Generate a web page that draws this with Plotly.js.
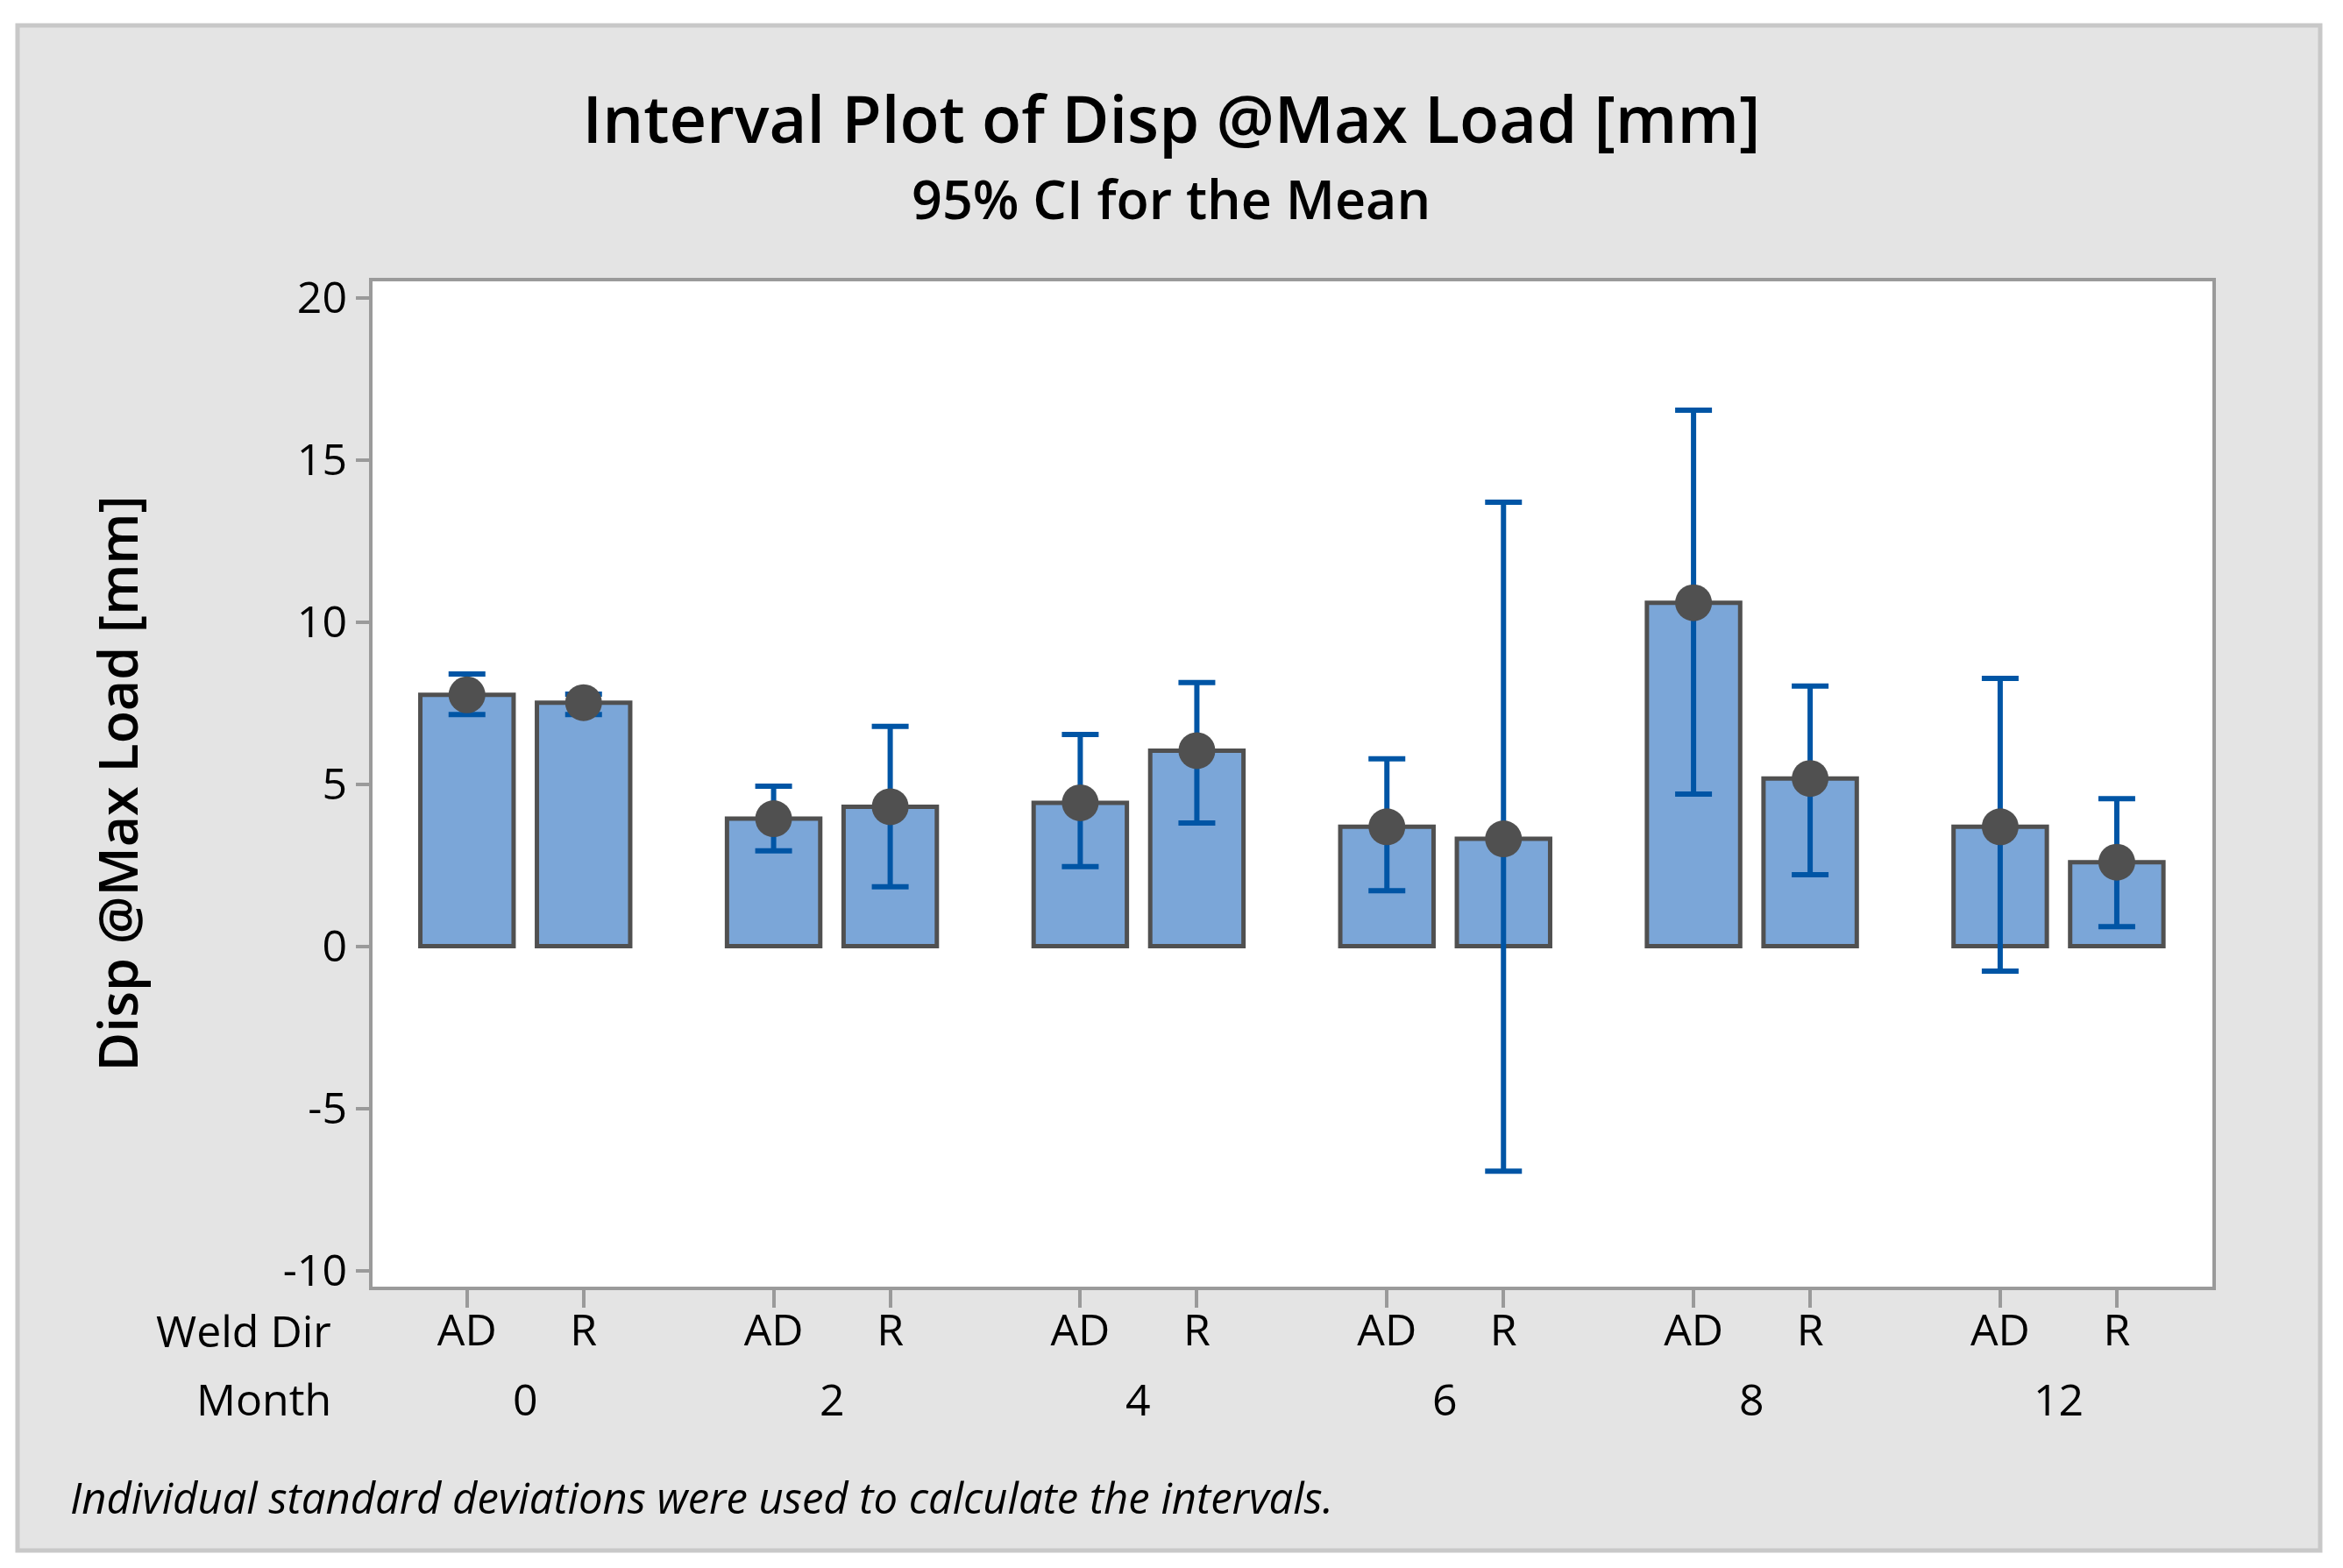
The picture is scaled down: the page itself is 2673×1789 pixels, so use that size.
<!DOCTYPE html>
<html>
<head>
<meta charset="utf-8">
<script src="https://cdn.plot.ly/plotly-3.0.1.min.js"></script>
<style>html,body{margin:0;padding:0;background:#fff;}#chart{width:2673px;height:1789px;}</style>
</head>
<body>
<div id="chart"></div>
<script>
// ---- data ----
const months = ['0', '2', '4', '6', '8', '12'];
const weldDirs = ['AD', 'R'];
const meanAD  = [7.75, 3.93, 4.42, 3.68, 10.59, 3.68];
const meanR   = [7.51, 4.30, 6.03, 3.31, 5.17, 2.59];
const upperAD = [8.39, 4.93, 6.53, 5.78, 16.53, 8.26];
const lowerAD = [7.14, 2.94, 2.45, 1.71, 4.69, -0.77];
const upperR  = [7.77, 6.78, 8.13, 13.69, 8.02, 4.55];
const lowerR  = [7.14, 1.83, 3.80, -6.94, 2.20, 0.60];
const yTicks  = [-10, -5, 0, 5, 10, 15, 20];
const yTickText = ['-10', '-5', '0', '5', '10', '15', '20'];

// ---- layout helpers ----
const GROUP_STEP = 2.63;   // spacing between Month groups (in units of within-pair spacing)
const FONT = '"Open Sans", "Noto Sans", sans-serif';

const xs = [], means = [], ups = [], downs = [], tickText = [];
months.forEach((m, g) => {
  [[meanAD, upperAD, lowerAD], [meanR, upperR, lowerR]].forEach((s, d) => {
    xs.push(g * GROUP_STEP + d);
    means.push(s[0][g]);
    ups.push(s[1][g] - s[0][g]);
    downs.push(s[0][g] - s[2][g]);
    tickText.push(weldDirs[d]);
  });
});

const bars = {
  type: 'bar', x: xs, y: means, width: 0.8,
  marker: {color: '#7ba6d8', line: {color: '#505050', width: 5}},
  hoverinfo: 'skip', showlegend: false
};
const pts = {
  type: 'scatter', mode: 'markers', x: xs, y: means,
  marker: {color: '#505050', size: 42, line: {width: 0}},
  error_y: {type: 'data', symmetric: false, array: ups, arrayminus: downs,
            color: '#0055a5', thickness: 6, width: 21},
  showlegend: false
};

const PX_L = 425, PX_R = 2524, PX_T = 321, PX_B = 1468;
const px2x = px => (px - PX_L) / (PX_R - PX_L);
const px2y = py => (PX_B - py) / (PX_B - PX_T);

const annotations = [
  {text: '95% CI for the Mean', xref: 'paper', yref: 'paper', x: px2x(1336), y: px2y(227),
   xanchor: 'center', yanchor: 'middle', showarrow: false, font: {family: FONT, size: 61, color: '#000', weight: 600}},
  {text: 'Disp @Max Load [mm]', xref: 'paper', yref: 'paper', x: px2x(133), y: 0.5, textangle: -90,
   xanchor: 'center', yanchor: 'middle', showarrow: false, font: {family: FONT, size: 61, color: '#000', weight: 600}},
  {text: 'Weld Dir', xref: 'paper', yref: 'paper', x: px2x(380), y: px2y(1518),
   xanchor: 'right', yanchor: 'middle', showarrow: false, font: {family: FONT, size: 50, color: '#000'}},
  {text: 'Month', xref: 'paper', yref: 'paper', x: px2x(380), y: px2y(1596),
   xanchor: 'right', yanchor: 'middle', showarrow: false, font: {family: FONT, size: 50, color: '#000'}},
  {text: '<i>Individual standard deviations were used to calculate the intervals.</i>', xref: 'paper', yref: 'paper',
   x: px2x(78), y: px2y(1708), xanchor: 'left', yanchor: 'middle', showarrow: false,
   font: {family: FONT, size: 49, color: '#000'}}
];
months.forEach((m, g) => {
  annotations.push({text: m, xref: 'x', yref: 'paper', x: g * GROUP_STEP + 0.5, y: px2y(1596),
    xanchor: 'center', yanchor: 'middle', showarrow: false, font: {family: FONT, size: 50, color: '#000'}});
});

const layout = {
  width: 2673, height: 1789,
  margin: {l: PX_L, r: 2673 - PX_R, t: PX_T, b: 1789 - PX_B, pad: 0},
  paper_bgcolor: '#ffffff', plot_bgcolor: '#ffffff',
  font: {family: FONT, color: '#000'},
  title: {text: 'Interval Plot of Disp @Max Load [mm]', x: 0.5, xref: 'container', xanchor: 'center',
          y: 1 - 137 / 1789, yanchor: 'middle', font: {family: FONT, size: 74, color: '#000', weight: 600}},
  xaxis: {range: [-0.81, 5 * GROUP_STEP + 1.82], tickvals: xs, ticktext: tickText,
          ticks: 'outside', ticklen: 20, tickwidth: 4, tickcolor: '#9a9a9a', ticklabelstandoff: -17,
          showline: true, linecolor: '#9a9a9a', linewidth: 4, mirror: true,
          showgrid: false, zeroline: false, tickfont: {family: FONT, size: 50, color: '#000'}},
  yaxis: {range: [-10.5, 20.5], tickvals: yTicks, ticktext: yTickText,
          ticks: 'outside', ticklen: 15, tickwidth: 4, tickcolor: '#9a9a9a',
          showline: true, linecolor: '#9a9a9a', linewidth: 4, mirror: true,
          showgrid: false, zeroline: false, tickfont: {family: FONT, size: 50, color: '#000'}},
  bargap: 0,
  shapes: [
    {type: 'rect', xref: 'paper', yref: 'paper', layer: 'below',
     x0: px2x(20), x1: px2x(2647), y0: px2y(1769), y1: px2y(29),
     fillcolor: '#e4e4e4', line: {color: '#c8c8c8', width: 5}},
    {type: 'rect', xref: 'paper', yref: 'paper', layer: 'below',
     x0: 0, x1: 1, y0: 0, y1: 1, fillcolor: '#ffffff', line: {width: 0}}
  ],
  annotations: annotations
};

Plotly.newPlot('chart', [bars, pts], layout, {displayModeBar: false, staticPlot: true});
</script>
</body>
</html>
